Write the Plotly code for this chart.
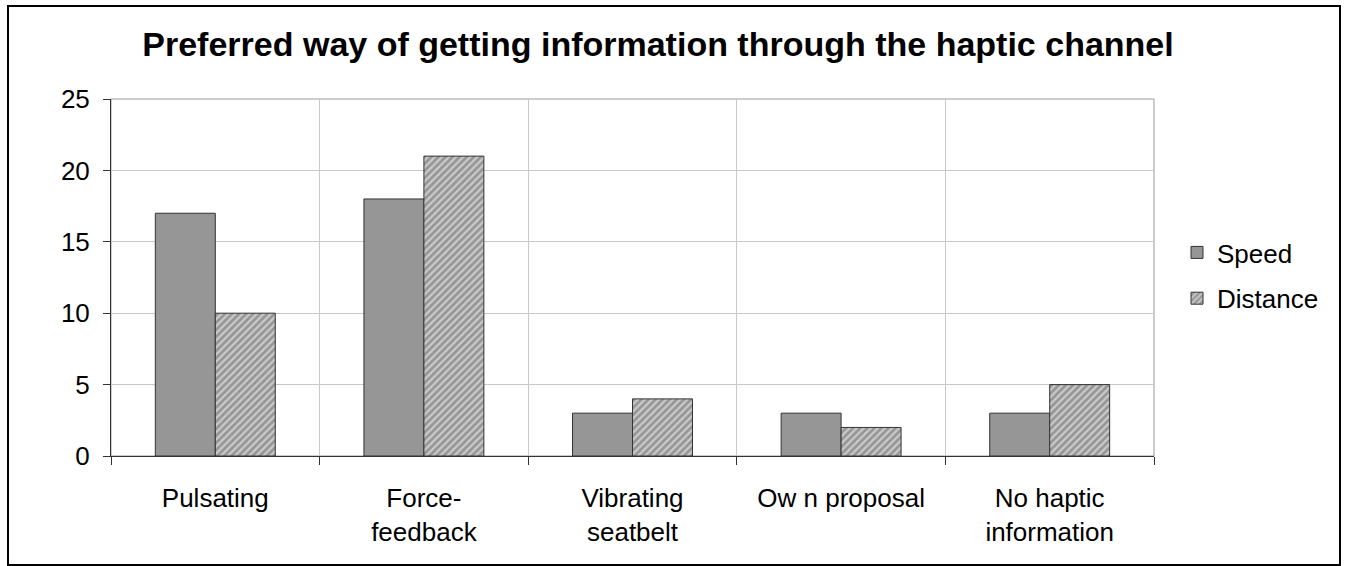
import plotly.graph_objects as go

categories = ["Pulsating", "Force-<br>feedback", "Vibrating<br>seatbelt", "Ow n proposal", "No haptic<br>information"]
speed = [17, 18, 3, 3, 3]
distance = [10, 21, 4, 2, 5]
y_ticks = [0, 5, 10, 15, 20, 25]
title_text = "Preferred way of getting information through the haptic channel"

W, H = 1346, 566
L, R, T, B = 111, 1154, 99, 456
pw, ph = R - L, B - T

xs = list(range(len(categories)))
FONT = "Liberation Sans, Arial, sans-serif"
FS = 26

fig = go.Figure()
fig.add_trace(go.Bar(
    x=xs, y=speed, name="Speed", legendgroup="a",
    marker=dict(color="#969696", line=dict(color="#333333", width=1)),
))
fig.add_trace(go.Bar(
    x=xs, y=distance, name="Distance", legendgroup="b",
    marker=dict(color="#969696", line=dict(color="#333333", width=1),
                pattern=dict(shape="/", fgcolor="white", bgcolor="#969696",
                             size=5, solidity=0.45)),
))

fig.update_layout(
    width=W, height=H,
    margin=dict(l=L, r=W - R, t=T, b=H - B, pad=0),
    paper_bgcolor="white", plot_bgcolor="white",
    font=dict(family=FONT, size=FS, color="black"),
    barmode="group", bargap=0.425, bargroupgap=0,
    title=dict(text="<b>" + title_text + "</b>", x=658 / W, xanchor="center",
               y=1 - 44 / H, yanchor="middle",
               font=dict(family=FONT, size=34, color="black")),
    legend=dict(x=(1177 - L) / pw, xanchor="left", y=(B - 229) / ph, yanchor="top",
                font=dict(family=FONT, size=FS), tracegroupgap=9,
                bgcolor="rgba(0,0,0,0)"),
    showlegend=True,
)

fig.update_xaxes(
    range=[-0.5, len(categories) - 0.5],
    tickmode="array", tickvals=xs, ticktext=categories,
    ticks="", showgrid=False, zeroline=False,
    showline=True, linecolor="#333333", linewidth=1,
    ticklabelstandoff=19,
    tickfont=dict(family=FONT, size=FS, color="black"),
    minor=dict(tickmode="linear", tick0=-0.5, dtick=1, ticks="outside", ticklen=8,
               tickcolor="#333333", showgrid=True, gridcolor="#c8c8c8", gridwidth=1),
)
fig.update_yaxes(
    range=[0, 25], tickmode="array", tickvals=y_ticks,
    ticks="outside", ticklen=7, tickcolor="#333333",
    showgrid=True, gridcolor="#c8c8c8", gridwidth=1, zeroline=False,
    showline=True, linecolor="#333333", linewidth=1,
    ticklabelstandoff=8,
    tickfont=dict(family=FONT, size=FS, color="black"),
)

# plot-area border (gray) and outer frame
fig.add_shape(type="rect", xref="paper", yref="paper", x0=0, x1=1, y0=0, y1=1,
              line=dict(color="#999999", width=1), layer="below")
fig.add_shape(type="rect", xref="paper", yref="paper",
              x0=(8 - L) / pw, x1=(1340 - L) / pw,
              y0=(B - 565) / ph, y1=(B - 6) / ph,
              line=dict(color="black", width=2), layer="above")

fig.write_html("out.html")
